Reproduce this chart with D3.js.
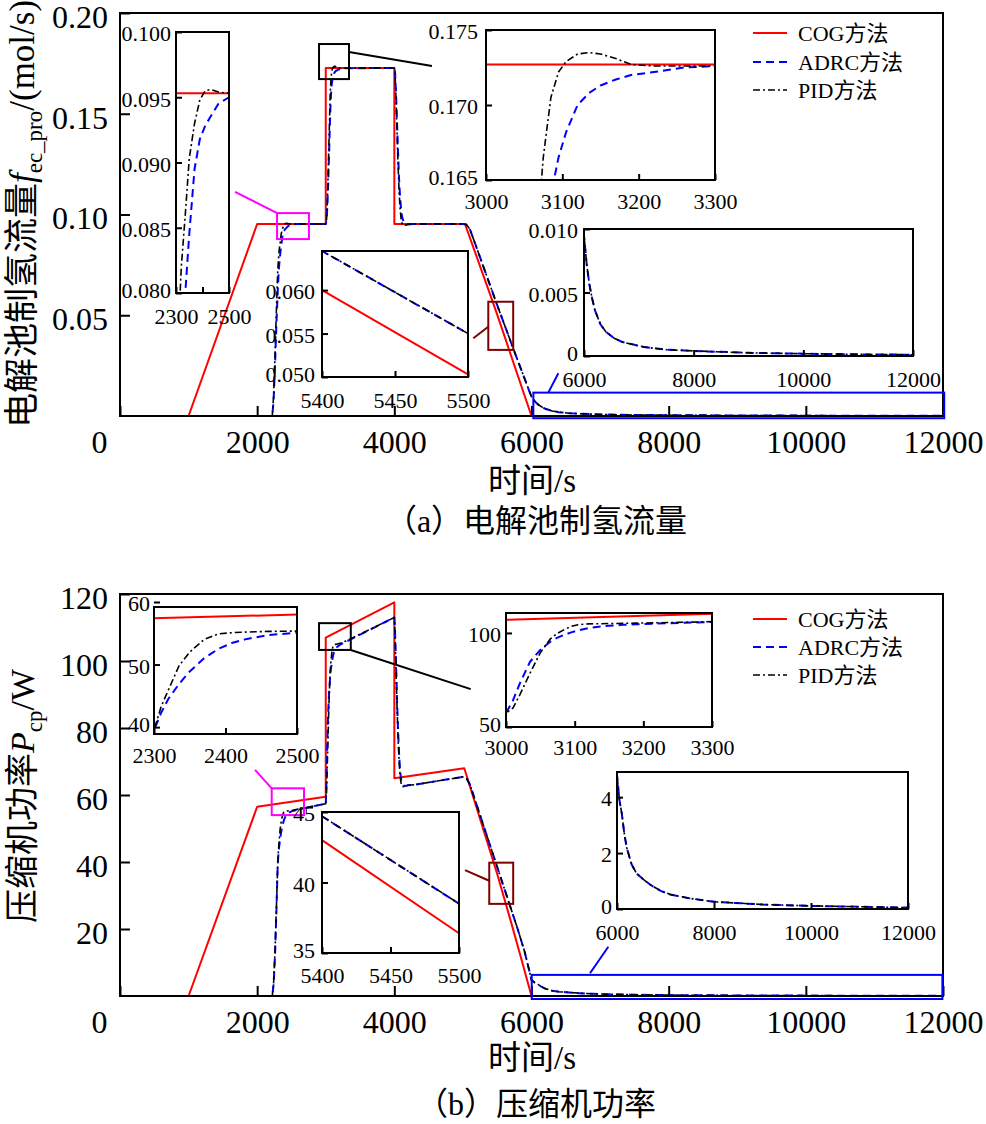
<!DOCTYPE html>
<html lang="zh">
<head>
<meta charset="UTF-8">
<title>电解池制氢流量与压缩机功率</title>
<script src="https://d3js.org/d3.v7.min.js"></script>
<style>
  body { margin: 0; background: #fff; }
  svg { display: block; background: #fff; }
  text { font-family: "Liberation Serif", "Times New Roman", "Noto Sans CJK SC", serif; fill: #000; }
</style>
</head>
<body>
<svg id="chart" width="986" height="1124"></svg>
<script>
// ---- data ----
const seriesNames = ["COG方法", "ADRC方法", "PID方法"];

const xTicks = [0, 2000, 4000, 6000, 8000, 10000, 12000];
const flowTicks = [0.05, 0.10, 0.15, 0.20];
const powerTicks = [20, 40, 60, 80, 100, 120];

// COG reference trajectories (piecewise linear)
const cogFlowTime = [0, 1000, 2000, 3000, 3000, 4000, 4000, 5030, 5400, 5500, 6000, 12000];
const cogFlow     = [0, 0, 0.0953, 0.0953, 0.1727, 0.1727, 0.0953, 0.0953, 0.0600, 0.0503, 0, 0];
const cogPowerTime = [0, 1000, 2000, 3000, 3000, 4000, 4000, 5020, 5400, 5500, 5700, 5850, 6000, 12000];
const cogPower     = [0, 0, 56.5, 59.5, 107, 117.5, 65, 68, 43.0, 36.4, 22.2, 11.2, 0, 0];

// controller responses share one time grid
const ctrlTime = [
  0, 2220, 2240, 2260, 2280, 2300, 2310, 2320, 2335, 2350, 2370, 2390, 2410, 2430, 2460, 2500, 2600,
  3000, 3010, 3020, 3035, 3050, 3065, 3075, 3085, 3095, 3105, 3120, 3135, 3150, 3170, 3190, 3220, 3260, 3300,
  4000, 4010, 4025, 4040, 4055, 4070, 4085, 4100, 4115, 4135, 4160, 4200, 4300,
  5000, 5050, 5100, 5200, 5300, 5400, 5500, 5600, 5700, 5800, 5900, 5950,
  6000, 6050, 6100, 6150, 6200, 6300, 6400, 6550, 6700, 6900, 7100, 7500, 8000, 9000, 10000, 11000, 12000
];
const pidFlow = [
  0, 0, 0.010, 0.030, 0.052, 0.072, 0.0775, 0.0820, 0.0860, 0.0903, 0.0930, 0.0948, 0.0955, 0.0956, 0.0954, 0.0953, 0.0953,
  0.0953, 0.0965, 0.103, 0.120, 0.140, 0.160, 0.1665, 0.1705, 0.1722, 0.1729, 0.1734, 0.1735, 0.1734, 0.1731, 0.1727, 0.1726, 0.1726, 0.1726,
  0.1727, 0.170, 0.157, 0.140, 0.124, 0.111, 0.1025, 0.0975, 0.0952, 0.0945, 0.0947, 0.0951, 0.0953,
  0.0953, 0.0950, 0.0928, 0.0835, 0.0740, 0.0645, 0.0550, 0.0458, 0.0366, 0.0275, 0.0185, 0.0140,
  0.0095, 0.0072, 0.0056, 0.0045, 0.0036, 0.0025, 0.0019, 0.0014, 0.0011, 0.0009, 0.0007, 0.0005, 0.0004, 0.00025, 0.00018, 0.00013, 0.0001
];
const adrcFlow = [
  0, 0, 0.008, 0.025, 0.045, 0.062, 0.069, 0.0745, 0.0800, 0.0845, 0.0895, 0.0918, 0.0928, 0.0935, 0.0945, 0.0950, 0.0953,
  0.0953, 0.097, 0.102, 0.115, 0.132, 0.150, 0.1585, 0.1640, 0.1665, 0.1682, 0.1700, 0.1708, 0.1713, 0.1717, 0.1720, 0.1722, 0.1725, 0.1726,
  0.1727, 0.171, 0.160, 0.145, 0.130, 0.117, 0.108, 0.102, 0.0985, 0.0965, 0.0955, 0.0952, 0.0953,
  0.0953, 0.0950, 0.0928, 0.0835, 0.0740, 0.0645, 0.0550, 0.0458, 0.0366, 0.0275, 0.0185, 0.0140,
  0.0095, 0.0072, 0.0056, 0.0045, 0.0036, 0.0025, 0.0019, 0.0014, 0.0011, 0.0009, 0.0007, 0.0005, 0.0004, 0.00025, 0.00018, 0.00013, 0.0001
];
const pidPower = [
  0, 0, 4, 13, 26, 39.5, 43.3, 45.9, 49.8, 52.0, 54.0, 54.9, 55.1, 55.2, 55.3, 55.35, 55.8,
  57.4, 60, 67, 78.6, 89.5, 97, 99.8, 101.8, 103.5, 104.4, 104.8, 104.9, 105.0, 105.1, 105.2, 105.4, 105.7, 106.0,
  113, 108, 97, 86, 77, 70, 65.5, 63.3, 62.6, 62.5, 62.7, 62.9, 63.1,
  65.4, 65.1, 63.2, 57.1, 50.9, 44.7, 38.5, 32.3, 26.1, 19.9, 13.2, 9.0,
  4.8, 3.9, 3.4, 2.7, 2.2, 1.6, 1.28, 1.05, 0.85, 0.65, 0.52, 0.38, 0.26, 0.16, 0.11, 0.08, 0.05
];
const adrcPower = [
  0, 0, 3.5, 12, 25, 39.5, 42.3, 44.5, 46.9, 48.9, 51.0, 52.5, 53.5, 54.1, 54.7, 55.1, 55.7,
  57.4, 64, 73, 84.7, 91.0, 95.5, 97.5, 99.0, 100.3, 101.4, 102.6, 103.3, 103.8, 104.3, 104.6, 105.0, 105.4, 105.8,
  113, 109, 99, 88, 79, 72, 67, 64.5, 63.3, 62.8, 62.7, 62.9, 63.1,
  65.4, 65.1, 63.2, 57.1, 50.9, 44.7, 38.5, 32.3, 26.1, 19.9, 13.2, 9.0,
  4.8, 3.9, 3.4, 2.7, 2.2, 1.6, 1.28, 1.05, 0.85, 0.65, 0.52, 0.38, 0.26, 0.16, 0.11, 0.08, 0.05
];

// ---- drawing ----
const svg = d3.select("#chart");
const xMain = d3.scaleLinear().domain([0, 12000]).range([120, 943]);
const styles = [
  { color: "#ff0000", width: 2, dash: null },
  { color: "#0000ff", width: 2, dash: "8,5" },
  { color: "#000000", width: 1.6, dash: "7,3,2,3" }
];
let clipCount = 0;

function drawSeries(g, x, y, cogT, cog, adrc, pid, rect) {
  const id = "clip" + (clipCount++);
  svg.append("defs").append("clipPath").attr("id", id)
    .append("rect").attr("x", rect[0] - 1).attr("y", rect[1] - 1)
    .attr("width", rect[2] - rect[0] + 2).attr("height", rect[3] - rect[1] + 2);
  const line = d3.line().x(d => x(d[0])).y(d => y(d[1]));
  const layer = g.append("g").attr("clip-path", `url(#${id})`);
  const sets = [d3.zip(cogT, cog), d3.zip(ctrlTime, adrc), d3.zip(ctrlTime, pid)];
  sets.forEach((s, i) => {
    layer.append("path").datum(s)
      .attr("d", line)
      .attr("fill", "none")
      .attr("stroke", styles[i].color)
      .attr("stroke-width", styles[i].width)
      .attr("stroke-dasharray", styles[i].dash)
      .attr("stroke-linejoin", "round");
  });
}

function styleAxis(a, size) {
  a.attr("font-size", size).attr("font-family", null);
  a.select(".domain").remove();
  a.selectAll(".tick line").attr("stroke-width", 2);
}

function drawPanel(p) {
  const g = svg.append("g");
  const y = d3.scaleLinear().domain(p.yDomain).range([p.bottom, p.top]);

  drawSeries(g, xMain, y, p.cogT, p.cog, p.adrc, p.pid, [120, p.top, 943, p.bottom]);

  g.append("rect").attr("x", 120).attr("y", p.top).attr("width", 823).attr("height", p.bottom - p.top)
    .attr("fill", "none").attr("stroke", "#000").attr("stroke-width", 2);

  g.append("g").attr("transform", `translate(0,${p.bottom})`)
    .call(d3.axisBottom(xMain).tickValues(xTicks).tickFormat(d3.format("d"))
      .tickSizeInner(-10).tickSizeOuter(0).tickPadding(14))
    .call(a => styleAxis(a, 32))
    .call(a => a.selectAll("text").attr("dx", d => d === 0 ? -21 : 0));

  g.append("g").attr("transform", "translate(120,0)")
    .call(d3.axisLeft(y).tickValues(p.yTicks).tickSizeInner(-10).tickSizeOuter(0).tickPadding(12).tickFormat(p.yFmt))
    .call(a => styleAxis(a, 32))
    .call(a => a.selectAll("text").attr("dy", "0.45em"));

  // axis titles
  const t = g.append("text").attr("transform", `translate(34,${p.yTitleY}) rotate(-90)`)
    .attr("text-anchor", "middle").attr("font-size", p.yTitleSize);
  t.append("tspan").text(p.yTitle[0]);
  t.append("tspan").attr("font-style", "italic").text(p.yTitle[1]);
  t.append("tspan").attr("font-size", 23).attr("dy", 8).text(p.yTitle[2]);
  t.append("tspan").attr("dy", -8).text(p.yTitle[3]);

  g.append("text").attr("x", 532).attr("y", p.xTitleY).attr("dy", "0.35em")
    .attr("text-anchor", "middle").attr("font-size", 33).text("时间/s");
  g.append("text").attr("x", 536).attr("y", p.captionY).attr("dy", "0.35em")
    .attr("text-anchor", "middle").attr("font-size", 32).text(p.caption);

  // zoom boxes and connectors
  p.insets.forEach(ins => {
    const bx = ins.box[0].map(xMain), by = ins.box[1].map(y);
    g.append("rect").attr("x", bx[0]).attr("y", by[1])
      .attr("width", bx[1] - bx[0]).attr("height", by[0] - by[1])
      .attr("fill", "none").attr("stroke", ins.color).attr("stroke-width", 2);
    g.append("line")
      .attr("x1", xMain(ins.link[0][0])).attr("y1", y(ins.link[0][1]))
      .attr("x2", xMain(ins.link[1][0])).attr("y2", y(ins.link[1][1]))
      .attr("stroke", ins.color).attr("stroke-width", 2);
  });

  p.insets.forEach(ins => drawInset(g, p, ins));

  // legend
  const lg = g.append("g");
  seriesNames.forEach((name, i) => {
    const ly = p.legendY[i];
    lg.append("line").attr("x1", 753).attr("x2", 787).attr("y1", ly).attr("y2", ly)
      .attr("stroke", styles[i].color).attr("stroke-width", styles[i].width)
      .attr("stroke-dasharray", styles[i].dash);
    lg.append("text").attr("x", 798).attr("y", ly).attr("dy", "0.35em")
      .attr("font-size", 22).text(name);
  });
}

function drawInset(g, p, ins) {
  const [x0, y0, x1, y1] = ins.frame;
  const x = d3.scaleLinear().domain(ins.xDomain).range([x0, x1]);
  const y = d3.scaleLinear().domain(ins.yDomain).range([y1, y0]);
  const ig = g.append("g");
  ig.append("rect").attr("x", x0).attr("y", y0).attr("width", x1 - x0).attr("height", y1 - y0)
    .attr("fill", "#fff");
  drawSeries(ig, x, y, p.cogT, p.cog, p.adrc, p.pid, ins.frame);
  ig.append("rect").attr("x", x0).attr("y", y0).attr("width", x1 - x0).attr("height", y1 - y0)
    .attr("fill", "none").attr("stroke", "#000").attr("stroke-width", 2);

  ig.append("g").attr("transform", `translate(0,${y1})`)
    .call(d3.axisBottom(x).tickValues(ins.xTicks).tickSizeInner(-6).tickSizeOuter(0)
      .tickPadding(ins.xPad).tickFormat(d => ins.xLabels.includes(d) ? d : ""))
    .call(a => styleAxis(a, 22));
  ig.append("g").attr("transform", `translate(${x0},0)`)
    .call(d3.axisLeft(y).tickValues(ins.yTicks).tickSizeInner(-6).tickSizeOuter(0)
      .tickPadding(ins.yPad).tickFormat(ins.yFmt))
    .call(a => styleAxis(a, 22))
    // lowest label sits a little higher so it clears the x labels
    .call(a => a.selectAll("text").attr("dy", d => d === ins.yTicks[0] ? "0.2em" : "0.4em"));
}

const f3 = d3.format(".3f");
const f3z = d => d === 0 ? "0" : f3(d);

drawPanel({
  top: 13, bottom: 416, yDomain: [0, 0.2], yTicks: flowTicks, yFmt: d3.format(".2f"),
  cogT: cogFlowTime, cog: cogFlow, adrc: adrcFlow, pid: pidFlow,
  yTitle: ["电解池制氢流量", "f", "ec_pro", "/(mol/s)"], yTitleY: 214, yTitleSize: 35,
  xTitleY: 480, caption: "（a）电解池制氢流量", captionY: 521,
  legendY: [33, 62, 90],
  insets: [
    { frame: [176, 32, 229, 293], xDomain: [2300, 2500], yDomain: [0.080, 0.100],
      xTicks: [2300, 2400, 2500], xLabels: [2300, 2500], yTicks: [0.080, 0.085, 0.090, 0.095, 0.100],
      yFmt: f3, xPad: 15, yPad: 5, color: "#ff00ff",
      box: [[2290, 2755], [0.0878, 0.1007]], link: [[1677, 0.1112], [2290, 0.1007]] },
    { frame: [486, 30, 715, 180], xDomain: [3000, 3300], yDomain: [0.165, 0.175],
      xTicks: [3000, 3100, 3200, 3300], xLabels: [3000, 3100, 3200, 3300], yTicks: [0.165, 0.170, 0.175],
      yFmt: f3, xPad: 13, yPad: 8, color: "#000000",
      box: [[2902, 3339], [0.1672, 0.1846]], link: [[3339, 0.1806], [4549, 0.1737]] },
    { frame: [322, 251, 468, 377], xDomain: [5400, 5500], yDomain: [0.050, 0.0645],
      xTicks: [5400, 5450, 5500], xLabels: [5400, 5450, 5500], yTicks: [0.050, 0.055, 0.060],
      yFmt: f3, xPad: 15, yPad: 7, color: "#7f0000",
      box: [[5370, 5733], [0.0328, 0.0567]], link: [[5152, 0.0386], [5370, 0.0443]] },
    { frame: [584, 229, 913, 356], xDomain: [6000, 12000], yDomain: [0, 0.010],
      xTicks: [6000, 8000, 10000, 12000], xLabels: [6000, 8000, 10000, 12000], yTicks: [0, 0.005, 0.010],
      yFmt: f3z, xPad: 15, yPad: 6, color: "#0000ff",
      box: [[6027, 12018], [-0.0011, 0.0116]], link: [[6245, 0.0116], [6391, 0.0212]] }
  ]
});

drawPanel({
  top: 594, bottom: 996, yDomain: [0, 120], yTicks: powerTicks, yFmt: d3.format("d"),
  cogT: cogPowerTime, cog: cogPower, adrc: adrcPower, pid: pidPower,
  yTitle: ["压缩机功率", "P", "cp", "/W"], yTitleY: 796, yTitleSize: 34,
  xTitleY: 1057, caption: "（b）压缩机功率", captionY: 1104,
  legendY: [619, 647, 675],
  insets: [
    { frame: [154, 607, 297, 734], xDomain: [2300, 2500], yDomain: [38.9, 59.2],
      xTicks: [2300, 2400, 2500], xLabels: [2300, 2400, 2500], yTicks: [40, 50, 60],
      yFmt: d3.format("d"), xPad: 13, yPad: 4, color: "#ff00ff",
      box: [[2212, 2683], [54.0, 62.0]], link: [[1969, 67.5], [2212, 62.0]] },
    { frame: [506, 613, 712, 727], xDomain: [3000, 3300], yDomain: [50, 110.6],
      xTicks: [3000, 3100, 3200, 3300], xLabels: [3000, 3100, 3200, 3300], yTicks: [50, 100],
      yFmt: d3.format("d"), xPad: 12, yPad: 5, color: "#000000",
      box: [[2902, 3365], [103.3, 111.3]], link: [[3365, 103.3], [5114, 91.6]] },
    { frame: [322, 812, 459, 953], xDomain: [5400, 5500], yDomain: [35, 45],
      xTicks: [5400, 5450, 5500], xLabels: [5400, 5450, 5500], yTicks: [35, 40, 45],
      yFmt: d3.format("d"), xPad: 14, yPad: 7, color: "#7f0000",
      box: [[5384, 5733], [27.5, 39.8]], link: [[5031, 37.6], [5384, 34.4]] },
    { frame: [617, 772, 908, 909], xDomain: [6000, 12000], yDomain: [0, 4.9],
      xTicks: [6000, 8000, 10000, 12000], xLabels: [6000, 8000, 10000, 12000], yTicks: [0, 2, 4],
      yFmt: d3.format("d"), xPad: 15, yPad: 5, color: "#0000ff",
      box: [[6003, 11991], [-0.9, 6.3]], link: [[6853, 6.8], [7120, 14.7]] }
  ]
});
</script>
</body>
</html>
